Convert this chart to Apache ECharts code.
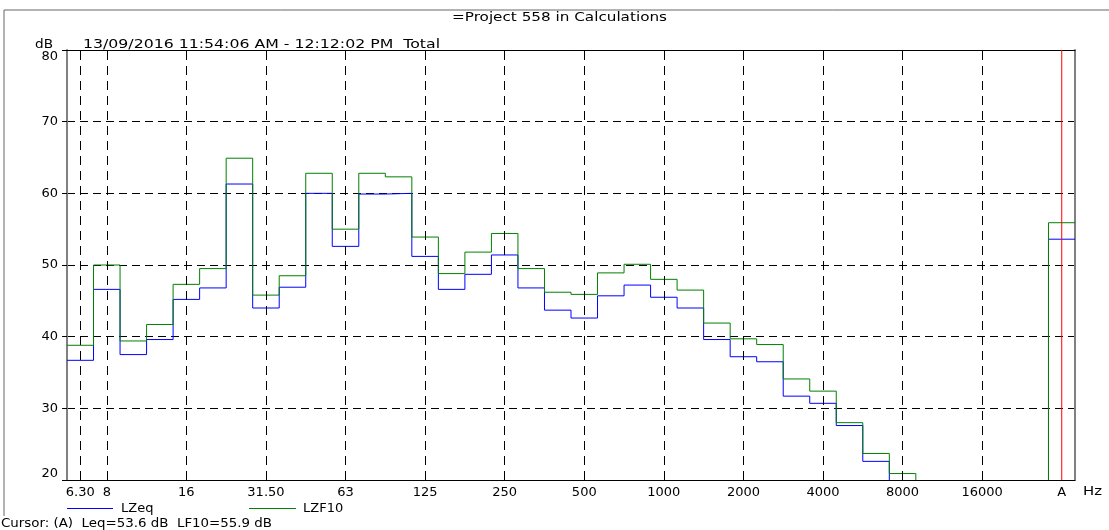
<!DOCTYPE html>
<html>
<head>
<meta charset="utf-8">
<script src="https://cdn.jsdelivr.net/npm/echarts@6/dist/echarts.min.js"></script>
<style>html,body{margin:0;padding:0;background:#fff}#c{width:1109px;height:530px}</style>
</head>
<body>
<div id="c"></div>
<script>
const bands = ['6.30','8','10','12.50','16','20','25','31.50','40','50','63','80','100','125','160','200','250','315','400','500','630','800','1000','1250','1600','2000','2500','3150','4000','5000','6300','8000','10000','12500','16000','20000','','A'];
const tickLabels = ['6.30','8','16','31.50','63','125','250','500','1000','2000','4000','8000','16000','A'];
const lzeq = [36.7,46.6,37.5,39.6,45.2,46.8,61.3,44.0,46.9,60.0,52.6,59.9,60.0,51.2,46.6,48.7,51.4,46.8,43.7,42.6,45.7,47.2,45.5,44.0,39.6,37.2,36.5,31.7,30.7,27.6,22.6,null,null,null,null,null,null,53.6];
const lzf10 = [38.8,50.0,39.4,41.7,47.3,49.5,64.9,45.8,48.5,62.8,55.0,62.8,62.3,53.9,48.8,51.8,54.4,49.5,46.2,45.9,48.9,50.1,48.0,46.5,41.9,39.7,38.9,34.1,32.4,28.0,23.7,20.9,null,null,null,null,null,55.9];
const yTicks = [20,30,40,50,60,70,80];
const cursorIndex = bands.indexOf('A');

const Y_MIN = 20, Y_MAX = 80;
const FONT = '"DejaVu Sans", "Liberation Sans", Arial, sans-serif';
const FONT_PX = 13;

function stepSegments(vals){
  const segs = []; let cur = null;
  vals.forEach((v,i)=>{
    if(v == null){
      if(cur){ cur.push([i-0.5, Y_MIN]); segs.push(cur); cur = null; }
      return;
    }
    if(!cur){ cur = []; if(i>0) cur.push([i-0.5, Y_MIN]); }
    cur.push([i-0.5, v]); cur.push([i+0.5, v]);
  });
  if(cur) segs.push(cur);
  return segs;
}

const series = [];
series.push({type:'line', xAxisIndex:1, data:[], silent:true, animation:false, z:1,
  markLine:{symbol:'none', silent:true, animation:false, label:{show:false},
    lineStyle:{color:'#000', type:[9,6], width:1},
    data: tickLabels.filter(t=>t!=='A').map(t=>({xAxis: bands.indexOf(t)}))
  }});
function addSeries(name, vals, color){
  stepSegments(vals).forEach(seg=>{
    series.push({name, type:'line', xAxisIndex:1, data:seg, symbol:'none', silent:true,
      lineStyle:{color, width:1}, itemStyle:{color}, animation:false, z:3});
  });
}
addSeries('LZeq', lzeq, '#0000ff');
addSeries('LZF10', lzf10, '#008000');
series.push({type:'line', xAxisIndex:1, data:[[cursorIndex, Y_MIN],[cursorIndex, Y_MAX]], symbol:'none',
  silent:true, animation:false, z:4, lineStyle:{color:'#ff0000', width:1}, itemStyle:{color:'#ff0000'}});

// text stretched horizontally to the reference's wide rendering
const mctx = document.createElement('canvas').getContext('2d');
mctx.font = FONT_PX + 'px ' + FONT;
function wideText(text, x, y, width, align){
  const w = mctx.measureText(text).width || width;
  return {type:'text', x, y, scaleX: width / w, silent:true,
    style:{text, font: FONT_PX + 'px ' + FONT, fill:'#000', align: align || 'left', verticalAlign:'middle'}};
}

const chart = echarts.init(document.getElementById('c'), null, {renderer:'canvas'});
chart.setOption({
  animation:false,
  textStyle:{fontFamily:FONT},
  grid:{left:67, right:34, top:50, bottom:50},
  legend:[
    {data:['LZeq'], left:67, top:502, padding:0, icon:'rect', itemWidth:46, itemHeight:1,
      textStyle:{fontSize:FONT_PX, color:'#000', fontFamily:FONT, padding:[0,0,0,3]}},
    {data:['LZF10'], left:249, top:502, padding:0, icon:'rect', itemWidth:47, itemHeight:1,
      textStyle:{fontSize:FONT_PX, color:'#000', fontFamily:FONT, padding:[0,0,0,2]}}
  ],
  xAxis:[
    {type:'category', data:bands, boundaryGap:true, position:'bottom',
      axisLine:{onZero:false, lineStyle:{color:'#000', width:1}}, axisTick:{show:false},
      axisLabel:{interval:(i,v)=>tickLabels.indexOf(v)>=0, color:'#000', fontSize:FONT_PX, margin:6, fontFamily:FONT},
      splitLine:{show:false}},
    {type:'value', min:-0.5, max:bands.length-0.5, position:'top',
      axisLine:{show:true, onZero:false, lineStyle:{color:'#000', width:1}}, axisTick:{show:false},
      axisLabel:{show:false}, splitLine:{show:false}}
  ],
  yAxis:[
    {type:'value', min:Y_MIN, max:Y_MAX, interval:10, position:'left',
      axisLine:{show:true, onZero:false, lineStyle:{color:'#808080', width:2}},
      axisTick:{show:true, length:5, lineStyle:{color:'#000'}},
      axisLabel:{color:'#000', fontSize:FONT_PX, margin:9, fontFamily:FONT,
        verticalAlignMaxLabel:'top', verticalAlignMinLabel:'bottom'},
      splitLine:{show:true, lineStyle:{color:'#000', type:[8,5], width:1}}},
    {type:'value', min:Y_MIN, max:Y_MAX, interval:10, position:'right',
      axisLine:{show:true, onZero:false, lineStyle:{color:'#808080', width:2}},
      axisTick:{show:false}, axisLabel:{show:false}, splitLine:{show:false}}
  ],
  graphic:[
    {type:'polyline', shape:{points:[[4,516],[4,10],[1109,10]]}, style:{stroke:'#666', lineWidth:1, fill:null}, silent:true},
    wideText('=Project 558 in Calculations', 452, 18, 215),
    wideText('dB', 35, 45, 18),
    wideText('13/09/2016 11:54:06 AM - 12:12:02 PM  Total', 83, 45, 357),
    wideText('Hz', 1083, 492, 19),
    wideText('Cursor: (A)  Leq=53.6 dB  LF10=55.9 dB', 1, 524, 271)
  ],
  series
});
</script>
</body>
</html>
